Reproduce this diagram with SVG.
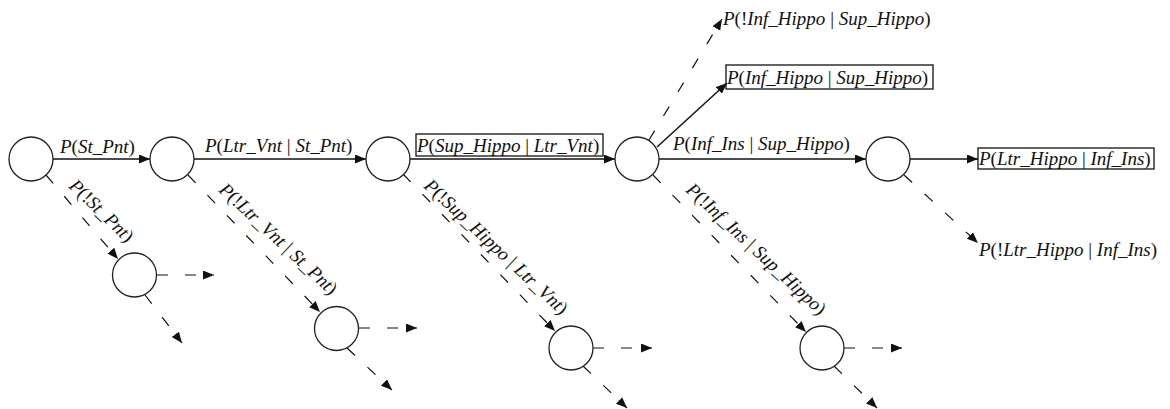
<svg xmlns="http://www.w3.org/2000/svg" width="1170" height="409" viewBox="0 0 1170 409">
  <style>
    .node { fill: #ffffff; stroke: #222222; stroke-width: 1.3; }
    .edge { fill: none; stroke: #111111; stroke-width: 1.5; }
    .dash { fill: none; stroke: #111111; stroke-width: 1.2; stroke-dasharray: 11 17; }
    .lbl { font-family: "Liberation Serif", "Times New Roman", serif; font-size: 19px; font-style: italic; fill: #111111; }
    .lbl .u { font-style: normal; }
    .box { fill: none; stroke: #111111; stroke-width: 1.3; }
  </style>
  <defs>
    <marker id="ah" markerUnits="userSpaceOnUse" markerWidth="12" markerHeight="10" refX="11" refY="4.5" orient="auto">
      <path d="M0,0 L11,4.5 L0,9 Z" fill="#111111"/>
    </marker>
  </defs>

  <rect width="1170" height="409" fill="#ffffff"/>

  <!-- connectors -->
  <g id="connectors">
    <!-- main chain -->
    <path class="edge" d="M53,159 H150" marker-end="url(#ah)"/>
    <path class="edge" d="M194,159 H366" marker-end="url(#ah)"/>
    <path class="edge" d="M410,159 H615" marker-end="url(#ah)"/>
    <path class="edge" d="M659,159 H866" marker-end="url(#ah)"/>
    <path class="edge" d="M910,159 H978" marker-end="url(#ah)"/>
    <path class="edge" d="M657,147 L727,83" marker-end="url(#ah)"/>

    <!-- negated branches -->
    <path class="dash" d="M46,175 L118,259" marker-end="url(#ah)"/>
    <path class="dash" d="M188,175 L320,312" marker-end="url(#ah)"/>
    <path class="dash" d="M403,174 L555,331" marker-end="url(#ah)"/>
    <path class="dash" d="M653,175 L806,332" marker-end="url(#ah)"/>
    <path class="dash" d="M904,175 L978,243" marker-end="url(#ah)"/>
    <path class="dash" d="M649,140 L722,19" marker-end="url(#ah)"/>

    <!-- outgoing stubs of the lower nodes -->
    <path class="dash" d="M157,275 H214" marker-end="url(#ah)"/>
    <path class="dash" d="M145,295 L182,343" marker-end="url(#ah)"/>
    <path class="dash" d="M359,328 H417" marker-end="url(#ah)"/>
    <path class="dash" d="M347,348 L392,390" marker-end="url(#ah)"/>
    <path class="dash" d="M593,348 H652" marker-end="url(#ah)"/>
    <path class="dash" d="M583,366 L627,408" marker-end="url(#ah)"/>
    <path class="dash" d="M844,348 H902" marker-end="url(#ah)"/>
    <path class="dash" d="M834,366 L877,408" marker-end="url(#ah)"/>
  </g>

  <!-- nodes -->
  <g id="n-start"><circle class="node" cx="31" cy="159" r="22"/></g>
  <g id="n-st-pnt"><circle class="node" cx="172" cy="159" r="22"/></g>
  <g id="n-ltr-vnt"><circle class="node" cx="388" cy="159" r="22"/></g>
  <g id="n-sup-hippo"><circle class="node" cx="637" cy="159" r="22"/></g>
  <g id="n-inf-ins"><circle class="node" cx="888" cy="159" r="22"/></g>
  <g id="n-not-st-pnt"><circle class="node" cx="134.5" cy="275" r="22"/></g>
  <g id="n-not-ltr-vnt"><circle class="node" cx="336.5" cy="328.5" r="22"/></g>
  <g id="n-not-sup-hippo"><circle class="node" cx="571" cy="348" r="22"/></g>
  <g id="n-not-inf-ins"><circle class="node" cx="822" cy="348" r="22"/></g>

  <g id="n-inf-hippo">
    <rect class="box" x="726" y="65" width="207" height="24"/>
    <text class="lbl" x="727" y="84">P<tspan class="u">(</tspan>Inf_Hippo<tspan class="u"> | </tspan>Sup_Hippo<tspan class="u">)</tspan></text>
  </g>
  <g id="n-ltr-hippo">
    <rect class="box" x="978" y="148" width="176" height="21"/>
    <text class="lbl" x="979" y="165">P<tspan class="u">(</tspan>Ltr_Hippo<tspan class="u"> | </tspan>Inf_Ins<tspan class="u">)</tspan></text>
  </g>
  <g id="n-not-inf-hippo">
    <text class="lbl" x="723" y="25">P<tspan class="u">(!</tspan>Inf_Hippo<tspan class="u"> | </tspan>Sup_Hippo<tspan class="u">)</tspan></text>
  </g>
  <g id="n-not-ltr-hippo">
    <text class="lbl" x="979" y="256">P<tspan class="u">(!</tspan>Ltr_Hippo<tspan class="u"> | </tspan>Inf_Ins<tspan class="u">)</tspan></text>
  </g>

  <!-- edge labels -->
  <g id="labels">
    <text class="lbl" x="60" y="153">P<tspan class="u">(</tspan>St_Pnt<tspan class="u">)</tspan></text>
    <text class="lbl" x="205" y="152">P<tspan class="u">(</tspan>Ltr_Vnt<tspan class="u"> | </tspan>St_Pnt<tspan class="u">)</tspan></text>
    <rect class="box" x="416" y="134" width="187" height="22"/>
    <text class="lbl" x="417" y="152">P<tspan class="u">(</tspan>Sup_Hippo<tspan class="u"> | </tspan>Ltr_Vnt<tspan class="u">)</tspan></text>
    <text class="lbl" x="673" y="150">P<tspan class="u">(</tspan>Inf_Ins<tspan class="u"> | </tspan>Sup_Hippo<tspan class="u">)</tspan></text>

    <text class="lbl" transform="translate(68,187) rotate(44)">P<tspan class="u">(!</tspan>St_Pnt<tspan class="u">)</tspan></text>
    <text class="lbl" transform="translate(218,191) rotate(43)">P<tspan class="u">(!</tspan>Ltr_Vnt<tspan class="u"> | </tspan>St_Pnt<tspan class="u">)</tspan></text>
    <text class="lbl" transform="translate(423,187) rotate(43)">P<tspan class="u">(!</tspan>Sup_Hippo<tspan class="u"> | </tspan>Ltr_Vnt<tspan class="u">)</tspan></text>
    <text class="lbl" transform="translate(685,191) rotate(43)">P<tspan class="u">(!</tspan>Inf_Ins<tspan class="u"> | </tspan>Sup_Hippo<tspan class="u">)</tspan></text>
  </g>
</svg>
